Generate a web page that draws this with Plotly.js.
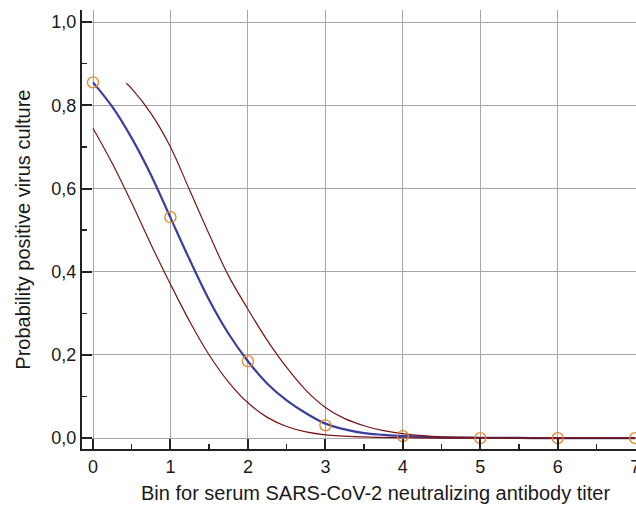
<!DOCTYPE html>
<html>
<head>
<meta charset="utf-8">
<script src="https://cdn.plot.ly/plotly-3.0.1.min.js"></script>
<style>html,body{margin:0;padding:0;background:#fff;}#chart{width:636px;height:505px;}</style>
</head>
<body>
<div id="chart"></div>
<script>
// Observed proportions per bin
var binX = [0, 1, 2, 3, 4, 5, 6, 7];
var observed = [0.855, 0.531, 0.185, 0.031, 0.005, 0.0, 0.0, 0.0];

// Fitted curve
var fitX = [0, 0.25, 0.5, 0.75, 1, 1.25, 1.5, 1.75, 2, 2.25, 2.5, 2.75, 3, 3.25, 3.5, 3.75, 4, 4.5, 5, 5.5, 6, 6.5, 7];
var fitY = [0.855, 0.796, 0.721, 0.632, 0.53, 0.428, 0.332, 0.251, 0.185, 0.131, 0.091, 0.060, 0.035, 0.021, 0.012, 0.008, 0.005, 0.002, 0.001, 0.0005, 0.0, 0.0, 0.0];

// Upper confidence band
var upperX = [0.43, 0.5, 0.75, 1, 1.25, 1.5, 1.75, 2, 2.25, 2.5, 2.75, 3, 3.25, 3.5, 3.75, 4, 4.25, 4.5, 5, 5.5, 6, 6.5, 7];
var upperY = [0.853, 0.84, 0.78, 0.70, 0.595, 0.49, 0.39, 0.31, 0.235, 0.17, 0.115, 0.074, 0.047, 0.030, 0.018, 0.011, 0.006, 0.003, 0.001, 0.0, 0.0, 0.0, 0.0];

// Lower confidence band
var lowerX = [0, 0.25, 0.5, 0.75, 1, 1.25, 1.5, 1.75, 2, 2.25, 2.5, 2.75, 3, 3.5, 4, 4.5, 5, 5.5, 6, 6.5, 7];
var lowerY = [0.745, 0.66, 0.565, 0.465, 0.37, 0.28, 0.20, 0.135, 0.085, 0.05, 0.028, 0.015, 0.008, 0.003, 0.001, 0.0, 0.0, 0.0, 0.0, 0.0, 0.0];

var yTickVals = [0, 0.2, 0.4, 0.6, 0.8, 1.0];
var xTitle = "Bin for serum SARS-CoV-2 neutralizing antibody titer";
var yTitle = "Probability positive virus culture";

var red = "#7a1414";
var blue = "#3a3f9e";
var traces = [
  {x: fitX, y: fitY, mode: "lines", line: {color: blue, width: 2.2, shape: "spline"}, hoverinfo: "skip"},
  {x: upperX, y: upperY, mode: "lines", line: {color: red, width: 1.2, shape: "spline"}, hoverinfo: "skip"},
  {x: lowerX, y: lowerY, mode: "lines", line: {color: red, width: 1.2, shape: "spline"}, hoverinfo: "skip"},
  {x: binX, y: observed, mode: "markers", marker: {symbol: "circle-open", size: 11, color: "#e0862e", line: {width: 1.3}}, cliponaxis: false}
];

var font = {family: "Liberation Sans, Arial, sans-serif", color: "#1a1a1a", size: 18};
var layout = {
  width: 636, height: 505,
  margin: {l: 82, r: 0, t: 10, b: 56, pad: 0},
  paper_bgcolor: "#fff", plot_bgcolor: "#fff",
  showlegend: false,
  separators: ",.",
  font: font,
  xaxis: {
    range: [-0.142, 7.01], tickvals: binX, ticktext: binX.map(String),
    showgrid: true, gridcolor: "#a6a6a6", gridwidth: 1,
    zeroline: false, showline: true, linecolor: "#222", linewidth: 2,
    ticks: "inside", ticklen: 10, tickwidth: 2, tickcolor: "#222",
    minor: {dtick: 0.5, tick0: 0, ticks: "inside", ticklen: 5, tickwidth: 1.5, tickcolor: "#222", showgrid: false},
    tickfont: {size: 18}, automargin: false, ticklabeloverflow: "allow"
  },
  yaxis: {
    range: [-0.026, 1.029], tickvals: yTickVals, tickformat: ".1f",
    showgrid: true, gridcolor: "#a6a6a6", gridwidth: 1,
    zeroline: false, showline: true, linecolor: "#222", linewidth: 2,
    ticks: "inside", ticklen: 10, tickwidth: 2, tickcolor: "#222",
    minor: {dtick: 0.1, tick0: 0, ticks: "inside", ticklen: 5, tickwidth: 1.5, tickcolor: "#222", showgrid: false},
    tickfont: {size: 18}, automargin: false
  },
  annotations: [
    {text: xTitle, xref: "paper", yref: "paper", x: 0.53, y: -0.1, xanchor: "center", yanchor: "middle", showarrow: false, font: {size: 20}},
    {text: yTitle, xref: "paper", yref: "paper", x: -0.108, y: 0.5, xanchor: "center", yanchor: "middle", textangle: -90, showarrow: false, font: {size: 20}}
  ]
};
Plotly.newPlot("chart", traces, layout, {displayModeBar: false, staticPlot: true});
</script>
</body>
</html>
